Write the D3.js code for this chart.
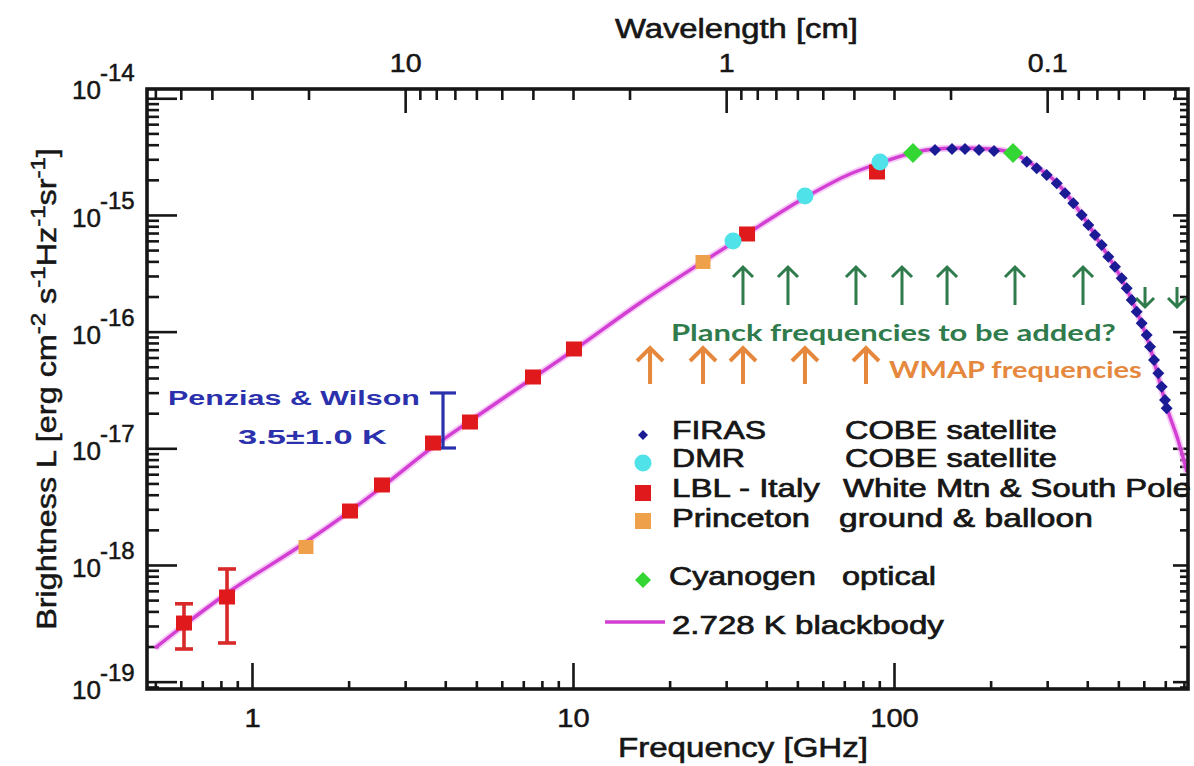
<!DOCTYPE html>
<html><head><meta charset="utf-8">
<script src="https://cdn.jsdelivr.net/npm/d3@7/dist/d3.min.js"></script>
<style>html,body{margin:0;padding:0;background:#fff;}svg{display:block;}</style>
</head><body>
<svg id="chart" width="1194" height="766" xmlns="http://www.w3.org/2000/svg"></svg>
<script>
// ---------------- data ----------------
const freqDomain = [0.4709, 823.9];          // GHz
const brightDomain = [8.65e-20, 1.201e-14];  // erg cm^-2 s^-1 Hz^-1 sr^-1

const freqTicks = [1, 10, 100];
const freqTickLabels = ["1", "10", "100"];
const waveTicks = [10, 1, 0.1];              // cm
const waveTickLabels = ["10", "1", "0.1"];
const brightTicks = [1e-14, 1e-15, 1e-16, 1e-17, 1e-18, 1e-19];
const brightTickExps = ["-14", "-15", "-16", "-17", "-18", "-19"];

// 2.728 K blackbody curve
const bbFreq = [0.499, 0.610, 0.830, 1.473, 2.020, 2.541, 3.770, 4.776, 7.506, 10.07, 16.17, 25.05, 34.35, 53.19, 72.94, 90.45, 113.8, 134.2, 160.6, 199.1, 234.9, 259.6, 322.0, 385.3, 441.6, 509.6, 571.5, 627.5, 678.9, 708.8, 766.9, 818.0];
const bbBright = [1.943e-19, 3.00e-19, 5.64e-19, 1.574e-18, 2.90e-18, 4.66e-18, 1.089e-17, 1.714e-17, 4.005e-17, 6.96e-17, 1.760e-16, 3.876e-16, 6.735e-16, 1.426e-15, 2.245e-15, 2.789e-15, 3.398e-15, 3.676e-15, 3.750e-15, 3.676e-15, 3.398e-15, 2.901e-15, 1.879e-15, 9.99e-16, 5.528e-16, 2.883e-16, 1.474e-16, 7.386e-17, 3.354e-17, 2.215e-17, 1.178e-17, 6.265e-18];

// FIRAS (COBE)
const firasFreq = [134.2, 151.6, 166.4, 184.0, 204.9, 259.1, 278.3, 299.0, 321.3, 340.9, 361.9, 384.4, 403.0, 422.9, 443.6, 465.2, 488.1, 512.1, 530.8, 550.2, 570.3, 591.1, 612.6, 627.5, 645.6, 665.9, 682.3, 698.6, 707.2];
const firasBright = [3.605e-15, 3.676e-15, 3.676e-15, 3.605e-15, 3.534e-15, 2.862e-15, 2.512e-15, 2.200e-15, 1.868e-15, 1.533e-15, 1.259e-15, 9.99e-16, 8.20e-16, 6.735e-16, 5.528e-16, 4.388e-16, 3.602e-16, 2.866e-16, 2.352e-16, 1.866e-16, 1.482e-16, 1.179e-16, 9.36e-17, 7.43e-17, 5.71e-17, 4.394e-17, 3.374e-17, 2.595e-17, 2.202e-17];

// DMR (COBE)
const dmrFreq = [31.51, 52.80, 90.45];
const dmrBright = [5.98e-16, 1.454e-15, 2.844e-15];

// LBL - Italy
const lblFreq = [0.614, 0.836, 2.020, 2.541, 3.664, 4.776, 7.506, 10.07, 34.85, 88.51];
const lblBright = [3.18e-19, 5.316e-19, 2.90e-18, 4.85e-18, 1.11e-17, 1.68e-17, 4.085e-17, 7.10e-17, 6.87e-16, 2.335e-15];
const lblErrFreq = [0.614, 0.836];
const lblErrLow = [1.905e-19, 2.145e-19];
const lblErrHigh = [4.65e-19, 9.24e-19];

// Princeton
const princetonFreq = [1.473, 25.41];
const princetonBright = [1.426e-18, 3.953e-16];

// Cyanogen
const cyanogenFreq = [114.6, 234.9];
const cyanogenBright = [3.398e-15, 3.398e-15];

// Penzias & Wilson
const pwFreq = [3.936];
const pwLow = [1.006e-17];
const pwHigh = [2.98e-17];

// annotation arrows (GHz)
const planckUpFreq = [33.85, 46.74, 76.13, 105.9, 146.3, 238.2, 388.0];
const planckDownFreq = [605.3, 761.4];
const wmapFreq = [17.38, 25.41, 33.85, 52.80, 81.80];

const legendNames = ["FIRAS", "DMR", "LBL - Italy", "Princeton", "Cyanogen"];
const legendNotes = ["COBE satellite", "COBE satellite", "White Mtn & South Pole", "ground & balloon", "optical"];
const lineLegendLabel = "2.728 K blackbody";

// ---------------- drawing ----------------
const W = 1194, H = 766;
const L = 147, R = 1188, T = 89, B = 689;
const SANS = "'Liberation Sans', Arial, Helvetica, sans-serif";
const HUM = "Lato, 'Open Sans', 'Noto Sans', sans-serif";
const INK = "#161616";
const C = {
  line: "#d23fd2", lineHalo: "#f1a8f1",
  firas: "#1b1b96", dmr: "#4fe2e8", lbl: "#e01a1c", lblErr: "#d82a2a",
  princeton: "#efa04a", cyan: "#33d633", pw: "#2b31ad",
  planck: "#2f7b4c", wmap: "#e5883d"
};

const svg = d3.select("#chart");
svg.append("rect").attr("width", W).attr("height", H).attr("fill", "#fff");

const x = d3.scaleLog().domain(freqDomain).range([L, R]);
const y = d3.scaleLog().domain(brightDomain).range([B, T]);
const xw = d3.scaleLog().domain([30 / freqDomain[0], 30 / freqDomain[1]]).range([L, R]);

function fit(t, x0, y0, width, k, rot) {
  let s = k || 1;
  if (width) s = width / t.node().getComputedTextLength();
  t.attr("transform", `translate(${x0},${y0})` + (rot ? ` rotate(${rot})` : "") + ` scale(${s},1)`);
  return t;
}
function label(str, x0, y0, o) {
  const fill = o.fill || INK;
  const t = svg.append("text").text(str)
    .attr("font-family", o.family || SANS).attr("font-size", o.size)
    .attr("font-weight", o.weight || "normal").attr("fill", fill)
    .attr("text-anchor", o.anchor || "start");
  if (o.heavy) t.attr("stroke", fill).attr("stroke-width", o.heavy);
  return fit(t, x0, y0, o.width, o.k, o.rot);
}

// minor tick values
const minorFreq = [], minorWave = [], minorBright = [];
for (let e = -1; e <= 2; e++) for (let m = 2; m <= 9; m++) { const v = m * Math.pow(10, e); if (v > freqDomain[0] && v < freqDomain[1]) minorFreq.push(v); }
for (let e = -2; e <= 1; e++) for (let m = 2; m <= 9; m++) { const v = m * Math.pow(10, e); if (v > 30 / freqDomain[1] && v < 30 / freqDomain[0]) minorWave.push(v); }
for (let e = -20; e <= -15; e++) for (let m = 2; m <= 9; m++) { const v = m * Math.pow(10, e); if (v > brightDomain[0] && v < brightDomain[1]) minorBright.push(v); }

function styleAxis(g) {
  g.select(".domain").remove();
  g.selectAll(".tick line").attr("stroke", INK).attr("stroke-width", 2.6);
  return g;
}
const axG = svg.append("g");
// bottom
styleAxis(axG.append("g").attr("transform", `translate(0,${B})`)
  .call(d3.axisBottom(x).tickValues(minorFreq).tickSize(-8).tickFormat(() => "")));
const gxMajor = styleAxis(axG.append("g").attr("transform", `translate(0,${B})`)
  .call(d3.axisBottom(x).tickValues(freqTicks).tickSize(-26).tickFormat((d, i) => freqTickLabels[i])));
gxMajor.selectAll("text").attr("y", 38).attr("dy", null).attr("fill", INK)
  .attr("stroke", INK).attr("stroke-width", 0.5)
  .attr("font-size", 26).attr("font-family", SANS).attr("transform", "scale(1.12,1)");
// top (wavelength)
styleAxis(axG.append("g").attr("transform", `translate(0,${T})`)
  .call(d3.axisTop(xw).tickValues(minorWave).tickSize(-11).tickFormat(() => "")));
const gtMajor = styleAxis(axG.append("g").attr("transform", `translate(0,${T})`)
  .call(d3.axisTop(xw).tickValues(waveTicks).tickSize(-24).tickFormat((d, i) => waveTickLabels[i])));
gtMajor.selectAll("text").attr("y", -17).attr("dy", null).attr("fill", INK)
  .attr("stroke", INK).attr("stroke-width", 0.5)
  .attr("font-size", 26).attr("font-family", SANS).attr("transform", "scale(1.1,1)");
// left
styleAxis(axG.append("g").attr("transform", `translate(${L},0)`)
  .call(d3.axisLeft(y).tickValues(minorBright).tickSize(-12).tickFormat(() => "")));
styleAxis(axG.append("g").attr("transform", `translate(${L},0)`)
  .call(d3.axisLeft(y).tickValues(brightTicks).tickSize(-30).tickFormat(() => "")));
// right
styleAxis(axG.append("g").attr("transform", `translate(${R},0)`)
  .call(d3.axisRight(y).tickValues(minorBright).tickSize(-8).tickFormat(() => "")));
styleAxis(axG.append("g").attr("transform", `translate(${R},0)`)
  .call(d3.axisRight(y).tickValues(brightTicks).tickSize(-15).tickFormat(() => "")));

// y tick labels 10^n
brightTicks.forEach((v, i) => {
  const c = i === 0 ? T : (i === brightTicks.length - 1 ? B : y(v) + 2);
  const t = svg.append("text").attr("font-family", SANS).attr("fill", INK).attr("font-size", 26)
    .attr("stroke", INK).attr("stroke-width", 0.5);
  t.append("tspan").text("10");
  t.append("tspan").attr("font-size", 24).attr("dy", -18).attr("dx", -1).text(brightTickExps[i]);
  t.attr("transform", `translate(72,${c + 10}) scale(1.0,1)`);
});

// axis titles
label("Wavelength [cm]", 615, 38, { size: 27, width: 243, heavy: 0.6 });
label("Frequency [GHz]", 618, 757, { size: 27, width: 250, heavy: 0.6 });
{
  const t = svg.append("text").attr("font-family", SANS).attr("font-size", 27).attr("fill", INK)
    .attr("stroke", INK).attr("stroke-width", 0.5).attr("text-anchor", "middle");
  const parts = [["Brightness L [erg cm", 0], ["-2", 1], [" s", 0], ["-1", 1], ["Hz", 0], ["-1", 1], ["sr", 0], ["-1", 1], ["]", 0]];
  let prevSup = false;
  parts.forEach(([s, sup]) => {
    const ts = t.append("tspan").text(s);
    if (sup) ts.attr("font-size", 20).attr("dy", -11);
    else if (prevSup) ts.attr("dy", 11);
    prevSup = !!sup;
  });
  fit(t, 56, 389, 482, null, -90);
}

// plot area clip
svg.append("clipPath").attr("id", "plotClip").append("rect")
  .attr("x", L).attr("y", T).attr("width", R - L).attr("height", B - T);
const plot = svg.append("g").attr("clip-path", "url(#plotClip)");

// blackbody line
const bb = bbFreq.map((f, i) => [f, bbBright[i]]);
const lineGen = d3.line().x(d => x(d[0])).y(d => y(d[1])).curve(d3.curveMonotoneX);
plot.append("path").attr("d", lineGen(bb)).attr("fill", "none")
  .attr("stroke", C.lineHalo).attr("stroke-width", 7).attr("stroke-opacity", 0.6);
plot.append("path").attr("d", lineGen(bb)).attr("fill", "none")
  .attr("stroke", C.line).attr("stroke-width", 3.4);

// markers
function diamond(cx, cy, w, h) {
  return `M${cx},${cy - h / 2}L${cx + w / 2},${cy}L${cx},${cy + h / 2}L${cx - w / 2},${cy}Z`;
}
// Penzias & Wilson error bar
pwFreq.forEach((f, i) => {
  const px = x(f), y1 = y(pwHigh[i]), y2 = y(pwLow[i]);
  const g = plot.append("g").attr("stroke", C.pw).attr("stroke-width", 3.2);
  g.append("line").attr("x1", px).attr("x2", px).attr("y1", y1).attr("y2", y2);
  g.append("line").attr("x1", px - 13).attr("x2", px + 13).attr("y1", y1).attr("y2", y1);
  g.append("line").attr("x1", px - 13).attr("x2", px + 13).attr("y1", y2).attr("y2", y2);
});
// LBL error bars
lblErrFreq.forEach((f, i) => {
  const px = x(f), y1 = y(lblErrHigh[i]), y2 = y(lblErrLow[i]);
  const g = plot.append("g").attr("stroke", C.lblErr).attr("stroke-width", 3.6);
  g.append("line").attr("x1", px).attr("x2", px).attr("y1", y1).attr("y2", y2);
  g.append("line").attr("x1", px - 9).attr("x2", px + 9).attr("y1", y1).attr("y2", y1);
  g.append("line").attr("x1", px - 9).attr("x2", px + 9).attr("y1", y2).attr("y2", y2);
});
// FIRAS
plot.selectAll(".firas").data(firasFreq.map((f, i) => [f, firasBright[i]])).enter()
  .append("path").attr("d", d => diamond(x(d[0]), y(d[1]), 12, 12)).attr("fill", C.firas);
// LBL squares
plot.selectAll(".lbl").data(lblFreq.map((f, i) => [f, lblBright[i]])).enter()
  .append("rect").attr("x", d => x(d[0]) - 8).attr("y", d => y(d[1]) - 7.5)
  .attr("width", 16).attr("height", 15).attr("fill", C.lbl);
// Princeton
plot.selectAll(".pr").data(princetonFreq.map((f, i) => [f, princetonBright[i]])).enter()
  .append("rect").attr("x", d => x(d[0]) - 7.5).attr("y", d => y(d[1]) - 7)
  .attr("width", 15).attr("height", 14).attr("fill", C.princeton);
// DMR
plot.selectAll(".dmr").data(dmrFreq.map((f, i) => [f, dmrBright[i]])).enter()
  .append("circle").attr("cx", d => x(d[0])).attr("cy", d => y(d[1])).attr("r", 8.5).attr("fill", C.dmr);
// Cyanogen
plot.selectAll(".cn").data(cyanogenFreq.map((f, i) => [f, cyanogenBright[i]])).enter()
  .append("path").attr("d", d => diamond(x(d[0]), y(d[1]), 20, 20)).attr("fill", C.cyan);

// annotation arrows
function arrow(cx, yTop, yBot, hw, hh, color, sw, down) {
  const d = down
    ? `M${cx},${yTop}L${cx},${yBot}M${cx - hw},${yBot - hh}L${cx},${yBot}L${cx + hw},${yBot - hh}`
    : `M${cx},${yBot}L${cx},${yTop}M${cx - hw},${yTop + hh}L${cx},${yTop}L${cx + hw},${yTop + hh}`;
  svg.append("path").attr("d", d).attr("fill", "none").attr("stroke", color)
    .attr("stroke-width", sw).attr("stroke-linecap", "butt").attr("stroke-linejoin", "miter");
}
planckUpFreq.forEach(f => arrow(x(f), 267, 305, 10, 10, C.planck, 3));
planckDownFreq.forEach(f => arrow(x(f), 287, 307, 9, 9, C.planck, 3, true));
wmapFreq.forEach(f => arrow(x(f), 348, 384, 13, 13, C.wmap, 4));

label("Planck frequencies to be added?", 671, 341, { family: HUM, size: 23, weight: "bold", fill: C.planck, width: 445 });
label("WMAP frequencies", 889, 378, { family: HUM, size: 23, weight: "bold", fill: C.wmap, width: 253 });
label("Penzias & Wilson", 168, 405, { size: 21, weight: "bold", fill: C.pw, width: 252 });
label("3.5\u00B11.0 K", 238, 444, { size: 21, weight: "bold", fill: C.pw, width: 149 });

// legend
const lg = svg.append("g");
lg.append("path").attr("d", diamond(643, 435, 10, 10)).attr("fill", C.firas);
lg.append("circle").attr("cx", 643).attr("cy", 463).attr("r", 8.5).attr("fill", C.dmr);
lg.append("rect").attr("x", 635).attr("y", 485).attr("width", 16).attr("height", 16).attr("fill", C.lbl);
lg.append("rect").attr("x", 635).attr("y", 513).attr("width", 16).attr("height", 16).attr("fill", C.princeton);
lg.append("path").attr("d", diamond(643, 580, 16, 16)).attr("fill", C.cyan);
lg.append("line").attr("x1", 605).attr("x2", 665).attr("y1", 622).attr("y2", 622)
  .attr("stroke", C.line).attr("stroke-width", 3.4);

const nameW = [94, 73, 148, 138, 147];
const nameX = [672, 672, 672, 672, 669];
const rowBase = [439, 467, 497, 527, 585];
const noteX = [845, 845, 843, 839, 842];
const noteW = [212, 212, 348, 254, 94];
legendNames.forEach((n, i) => {
  label(n, nameX[i], rowBase[i], { size: 26, width: nameW[i], heavy: 0.7 });
  label(legendNotes[i], noteX[i], rowBase[i], { size: 26, width: noteW[i], heavy: 0.7 });
});
label(lineLegendLabel, 672, 634, { size: 26, width: 272, heavy: 0.7 });

// frame
svg.append("rect").attr("x", L).attr("y", T).attr("width", R - L).attr("height", B - T)
  .attr("fill", "none").attr("stroke", INK).attr("stroke-width", 3.6);
</script>
</body></html>
